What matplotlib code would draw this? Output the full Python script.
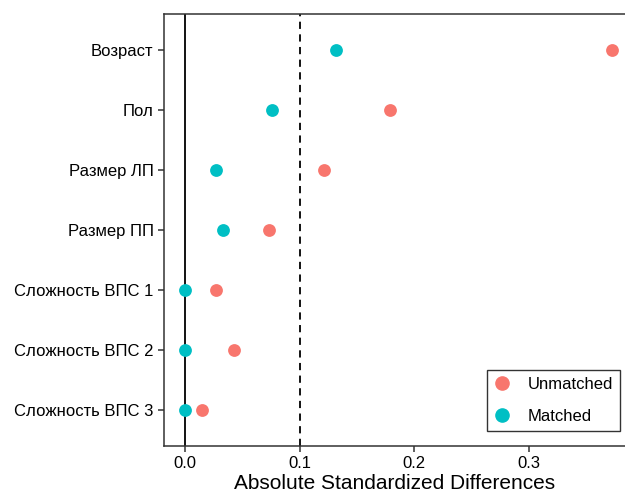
import matplotlib.pyplot as plt
from matplotlib.lines import Line2D

plt.rcParams['font.family'] = ['Liberation Sans', 'DejaVu Sans']

covariates = ['Возраст', 'Пол', 'Размер ЛП', 'Размер ПП',
              'Сложность ВПС 1', 'Сложность ВПС 2', 'Сложность ВПС 3']
unmatched = [0.373, 0.179, 0.121, 0.0735, 0.027, 0.043, 0.015]
matched = [0.132, 0.076, 0.027, 0.033, 0.0, 0.0, 0.0]
xticks = [0.0, 0.1, 0.2, 0.3]

red = '#F8766D'
teal = '#00BFC4'

fig = plt.figure(figsize=(6.25, 4.93), dpi=100)
ax = fig.add_axes([0.2624, 0.0953, 0.7376, 0.8763])

ypos = list(range(len(covariates), 0, -1))

ax.axvline(0, color='black', lw=1.3, zorder=1)
ax.axvline(0.1, color='black', lw=1.3, ls=(0, (4, 3)), zorder=1)

ax.scatter(unmatched, ypos, s=85, color=red, zorder=3, linewidths=0)
ax.scatter(matched, ypos, s=85, color=teal, zorder=3, linewidths=0)

ax.set_xlim(-0.0184, 0.384)
ax.set_ylim(0.4, 7.6)
ax.set_yticks(ypos)
ax.set_yticklabels(covariates)
ax.set_xticks(xticks)
ax.set_xticklabels([f'{t:.1f}' for t in xticks])
ax.tick_params(labelsize=12, colors='#333333', labelcolor='black', length=4, width=1.1)
ax.set_xlabel('Absolute Standardized Differences', fontsize=15, labelpad=2)

for side in ['left', 'bottom', 'top']:
    ax.spines[side].set_color('#333333')
    ax.spines[side].set_linewidth(1.1)
ax.spines['right'].set_visible(False)

handles = [Line2D([], [], marker='o', ls='', color=red, markersize=9.5, label='Unmatched'),
           Line2D([], [], marker='o', ls='', color=teal, markersize=9.5, label='Matched')]
leg = ax.legend(handles=handles, loc='lower right', bbox_to_anchor=(0.989, 0.035),
                borderaxespad=0, fontsize=12, fancybox=False, edgecolor='#333333',
                framealpha=1, handlelength=1.0, handletextpad=1.05,
                labelspacing=1.05, borderpad=0.4)
leg.get_frame().set_linewidth(1.0)

fig.savefig('out.png', dpi=100)
